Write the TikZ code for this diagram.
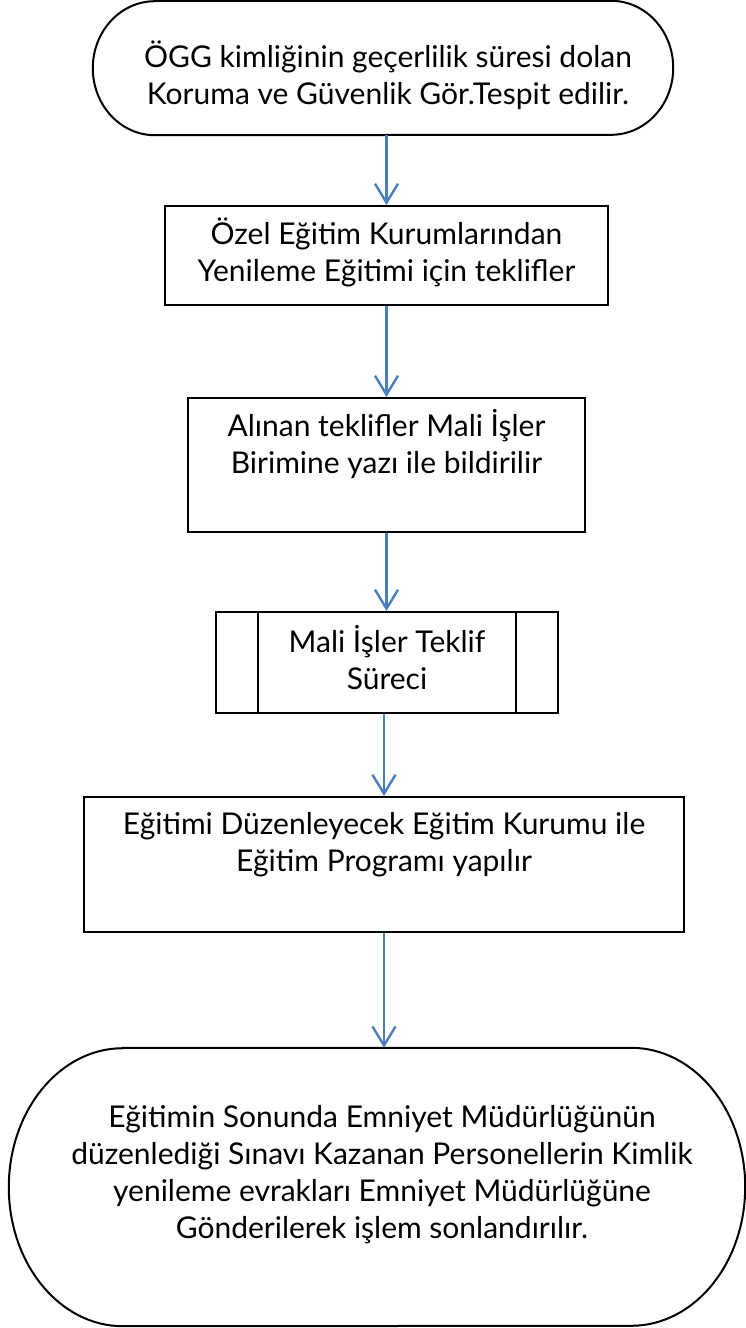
\documentclass[tikz,border=0pt]{standalone}
\usepackage{fontspec}
\setmainfont{Lato}
\usetikzlibrary{arrows.meta,calc}
\definecolor{arrowblue}{HTML}{4A7EBB}
\tikzset{
  shapeline/.style={draw=black, line width=2pt},
  boxnode/.style={shapeline, rectangle, inner sep=0pt},
  termnode/.style={rectangle, draw=none, inner sep=0pt},
  txt/.style={anchor=north, align=center, inner sep=0pt, text=black,
    font=\fontsize{30}{37}\selectfont},
  arr/.style={draw=arrowblue, line width=2.4pt,
    -{Straight Barb[length=19pt, width=23pt, line width=2.4pt]}},
}
\newcommand\drawterm[3]{%
  \draw[shapeline] ([xshift=#2]#1.north west) -- ([xshift=-#2]#1.north east)
    arc[start angle=90, end angle=-90, x radius=#2, y radius=#3]
    -- ([xshift=#2]#1.south west)
    arc[start angle=270, end angle=90, x radius=#2, y radius=#3] -- cycle;}
\begin{document}
\begin{tikzpicture}[x=1pt, y=-1pt]
  \useasboundingbox (0,0) rectangle (746,1328);
  % shapes
  \node[termnode, minimum width=580pt, minimum height=134pt] (t1) at (383,68) {};
  \drawterm{t1}{62pt}{67pt}
  \node[boxnode, minimum width=443pt, minimum height=99pt] (b2) at (386.5,255.5) {};
  \node[boxnode, minimum width=397pt, minimum height=134pt] (b3) at (386.5,465) {};
  \node[boxnode, minimum width=342pt, minimum height=101pt] (b4) at (387,662.5) {};
  \draw[shapeline] ([xshift=43pt]b4.north west) -- ([xshift=43pt]b4.south west);
  \draw[shapeline] ([xshift=-43pt]b4.north east) -- ([xshift=-43pt]b4.south east);
  \node[boxnode, minimum width=600pt, minimum height=135pt] (b5) at (384,864.5) {};
  \node[termnode, minimum width=736pt, minimum height=278pt] (t6) at (377,1187) {};
  \drawterm{t6}{114pt}{139pt}
  % texts
  \node[txt] (t1txt) at ([xshift=5pt, yshift=-40.1pt]t1.north)
    {\strut ÖGG kimliğinin geçerlilik süresi dolan\\Koruma ve Güvenlik Gör.Tespit edilir.};
  \node[txt] (b2txt) at ([yshift=-13.1pt]b2.north)
    {\strut Özel Eğitim Kurumlarından\\Yenileme Eğitimi için teklifler};
  \node[txt] (b3txt) at ([yshift=-12.1pt]b3.north)
    {\strut Alınan teklifler Mali İşler\\Birimine yazı ile bildirilir};
  \node[txt] (b4txt) at ([yshift=-14.1pt]b4.north)
    {\strut Mali İşler Teklif\\Süreci};
  \node[txt] (b5txt) at ([yshift=-12.1pt]b5.north)
    {\strut Eğitimi Düzenleyecek Eğitim Kurumu ile\\Eğitim Programı yapılır};
  \node[txt] (t6txt) at ([xshift=5pt, yshift=-53.1pt]t6.north)
    {\strut Eğitimin Sonunda Emniyet Müdürlüğünün\\düzenlediği Sınavı Kazanan Personellerin Kimlik\\yenileme evrakları Emniyet Müdürlüğüne\\Gönderilerek işlem sonlandırılır.};
  % connectors
  \draw[arr] (t1.south -| b2.north) -- (b2.north);
  \draw[arr] (b2.south) -- (b3.north);
  \draw[arr] (b3.south) -- (b3.south |- b4.north);
  \draw[arr] (b4.south -| b5.north) -- (b5.north);
  \draw[arr] (b5.south) -- (b5.south |- t6.north);
\end{tikzpicture}
\end{document}
